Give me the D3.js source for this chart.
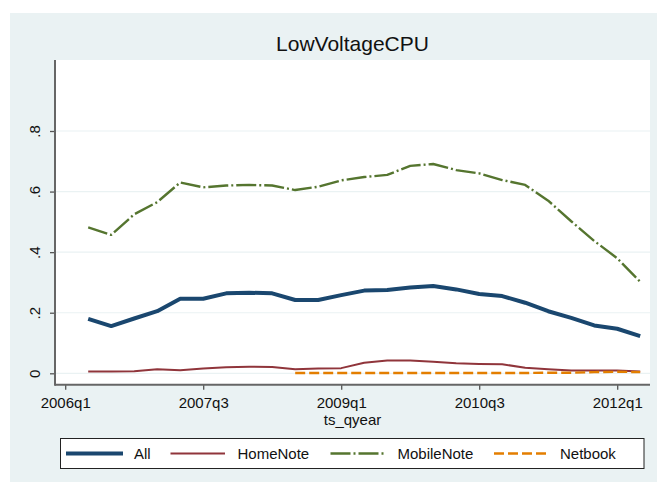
<!DOCTYPE html>
<html><head><meta charset="utf-8">
<script src="https://cdn.jsdelivr.net/npm/d3@7"></script>
<style>
body{margin:0;background:#fff;}
svg{display:block;font-family:Arial,"Liberation Sans",sans-serif;}
</style>
</head><body>
<svg id="c" width="657" height="483"></svg>
<script>
// ---- data ----
const quarters = ["2006q2","2006q3","2006q4","2007q1","2007q2","2007q3","2007q4","2008q1","2008q2","2008q3","2008q4","2009q1","2009q2","2009q3","2009q4","2010q1","2010q2","2010q3","2010q4","2011q1","2011q2","2011q3","2011q4","2012q1","2012q2"];
const allValues  = [0.180,0.156,0.181,0.205,0.246,0.246,0.264,0.266,0.264,0.242,0.242,0.258,0.273,0.275,0.283,0.288,0.277,0.262,0.255,0.233,0.205,0.183,0.158,0.147,0.123];
const homeNote   = [0.006,0.006,0.007,0.013,0.010,0.016,0.020,0.022,0.021,0.013,0.016,0.017,0.035,0.042,0.042,0.038,0.033,0.031,0.030,0.018,0.013,0.009,0.009,0.009,0.006];
const mobileNote = [0.482,0.457,0.525,0.565,0.630,0.614,0.620,0.622,0.620,0.605,0.616,0.637,0.648,0.655,0.685,0.691,0.671,0.660,0.638,0.622,0.570,0.502,0.437,0.380,0.302];
const netbook    = [null,null,null,null,null,null,null,null,null,0.001,0.001,0.001,0.001,0.001,0.001,0.001,0.001,0.001,0.001,0.001,0.002,0.002,0.004,0.005,0.004];
const seriesNames = ["All","HomeNote","MobileNote","Netbook"];
const xTickLabels = ["2006q1","2007q3","2009q1","2010q3","2012q1"];
const yTickValues = [0,0.2,0.4,0.6,0.8];
const yTickLabels = ["0",".2",".4",".6",".8"];
const titleText = "LowVoltageCPU";
const xTitle = "ts_qyear";

// ---- layout ----
const W = 657, H = 483;
const plot = {left:55, right:650, top:60, bottom:384.7};
const qIndex = s => (+s.slice(0,4) - 2006) * 4 + (+s.slice(5) - 1);

const x = d3.scaleLinear().domain([0,24]).range([65.2,617.2]);
const y = d3.scaleLinear().domain([0,0.8]).range([373.3,131]);

const svg = d3.select("#c");
svg.append("rect").attr("x",10).attr("y",13).attr("width",W-10).attr("height",469).attr("fill","#eaf2f3");
svg.append("rect").attr("x",plot.left).attr("y",plot.top).attr("width",plot.right-plot.left).attr("height",plot.bottom-plot.top).attr("fill","#fff");

// gridlines
svg.append("g").selectAll("line").data(yTickValues).join("line")
  .attr("x1",plot.left).attr("x2",plot.right)
  .attr("y1",d=>y(d)).attr("y2",d=>y(d))
  .attr("stroke","#eaf2f3").attr("stroke-width",1.2);

// title
svg.append("text").attr("x",(plot.left+plot.right)/2).attr("y",51).attr("text-anchor","middle")
  .attr("font-size",21).attr("fill","#111").text(titleText);

// y axis
const yAxis = d3.axisLeft(y).tickValues(yTickValues).tickSize(5).tickSizeOuter(0)
  .tickFormat((d,i)=>yTickLabels[i]);
const gy = svg.append("g").attr("transform",`translate(${plot.left},0)`).call(yAxis);
gy.select(".domain").remove();
gy.selectAll(".tick line").attr("stroke","#555").attr("stroke-width",1.3);
gy.selectAll(".tick text").attr("transform","rotate(-90)").attr("x",0).attr("y",-15.5).attr("dy",0)
  .attr("text-anchor","middle").attr("font-size",15).attr("fill","#111").attr("font-family",null);

// x axis
const xAxis = d3.axisBottom(x).tickValues(xTickLabels.map(qIndex)).tickSize(5).tickSizeOuter(0)
  .tickFormat((d,i)=>xTickLabels[i]);
const gx = svg.append("g").attr("transform",`translate(0,${plot.bottom})`).call(xAxis);
gx.select(".domain").remove();
gx.selectAll(".tick line").attr("stroke","#555").attr("stroke-width",1.3);
gx.selectAll(".tick text").attr("y",23.5).attr("dy",0).attr("font-size",15).attr("fill","#111").attr("font-family",null);

// axis lines
svg.append("line").attr("x1",plot.left).attr("x2",plot.left).attr("y1",plot.top).attr("y2",plot.bottom+1)
  .attr("stroke","#666").attr("stroke-width",2);
svg.append("line").attr("x1",plot.left).attr("x2",plot.right).attr("y1",plot.bottom).attr("y2",plot.bottom)
  .attr("stroke","#666").attr("stroke-width",2);

svg.append("text").attr("x",(plot.left+plot.right)/2).attr("y",424.5).attr("text-anchor","middle")
  .attr("font-size",15).attr("fill","#111").text(xTitle);

// series
const styles = [
  {vals:allValues, color:"#1a476f", w:4, dash:null},
  {vals:homeNote, color:"#90353b", w:2, dash:null},
  {vals:mobileNote, color:"#55752f", w:2.4, dash:"20,3,2,3"},
  {vals:netbook, color:"#e37e00", w:2.4, dash:"10,4"}
];
const line = d3.line().defined(d=>d.v!=null).x(d=>x(qIndex(d.q))).y(d=>y(d.v));
styles.forEach(s=>{
  svg.append("path").datum(quarters.map((q,i)=>({q, v:s.vals[i]})))
    .attr("d",line).attr("fill","none").attr("stroke",s.color).attr("stroke-width",s.w)
    .attr("stroke-dasharray",s.dash).attr("stroke-linejoin","round");
});

// legend
svg.append("rect").attr("x",60.5).attr("y",438.5).attr("width",583.5).attr("height",30)
  .attr("fill","#fff").attr("stroke","#222").attr("stroke-width",1);
const legX = [[66,123,134],[170.5,225,237.5],[330.5,384,397.5],[494,547,560]];
seriesNames.forEach((n,k)=>{
  const s = styles[k], p = legX[k];
  svg.append("line").attr("x1",p[0]).attr("x2",p[1]).attr("y1",453.5).attr("y2",453.5)
    .attr("stroke",s.color).attr("stroke-width",s.w).attr("stroke-dasharray",s.dash);
  svg.append("text").attr("x",p[2]).attr("y",459).attr("font-size",15).attr("fill","#111").text(n);
});
</script>
</body></html>
